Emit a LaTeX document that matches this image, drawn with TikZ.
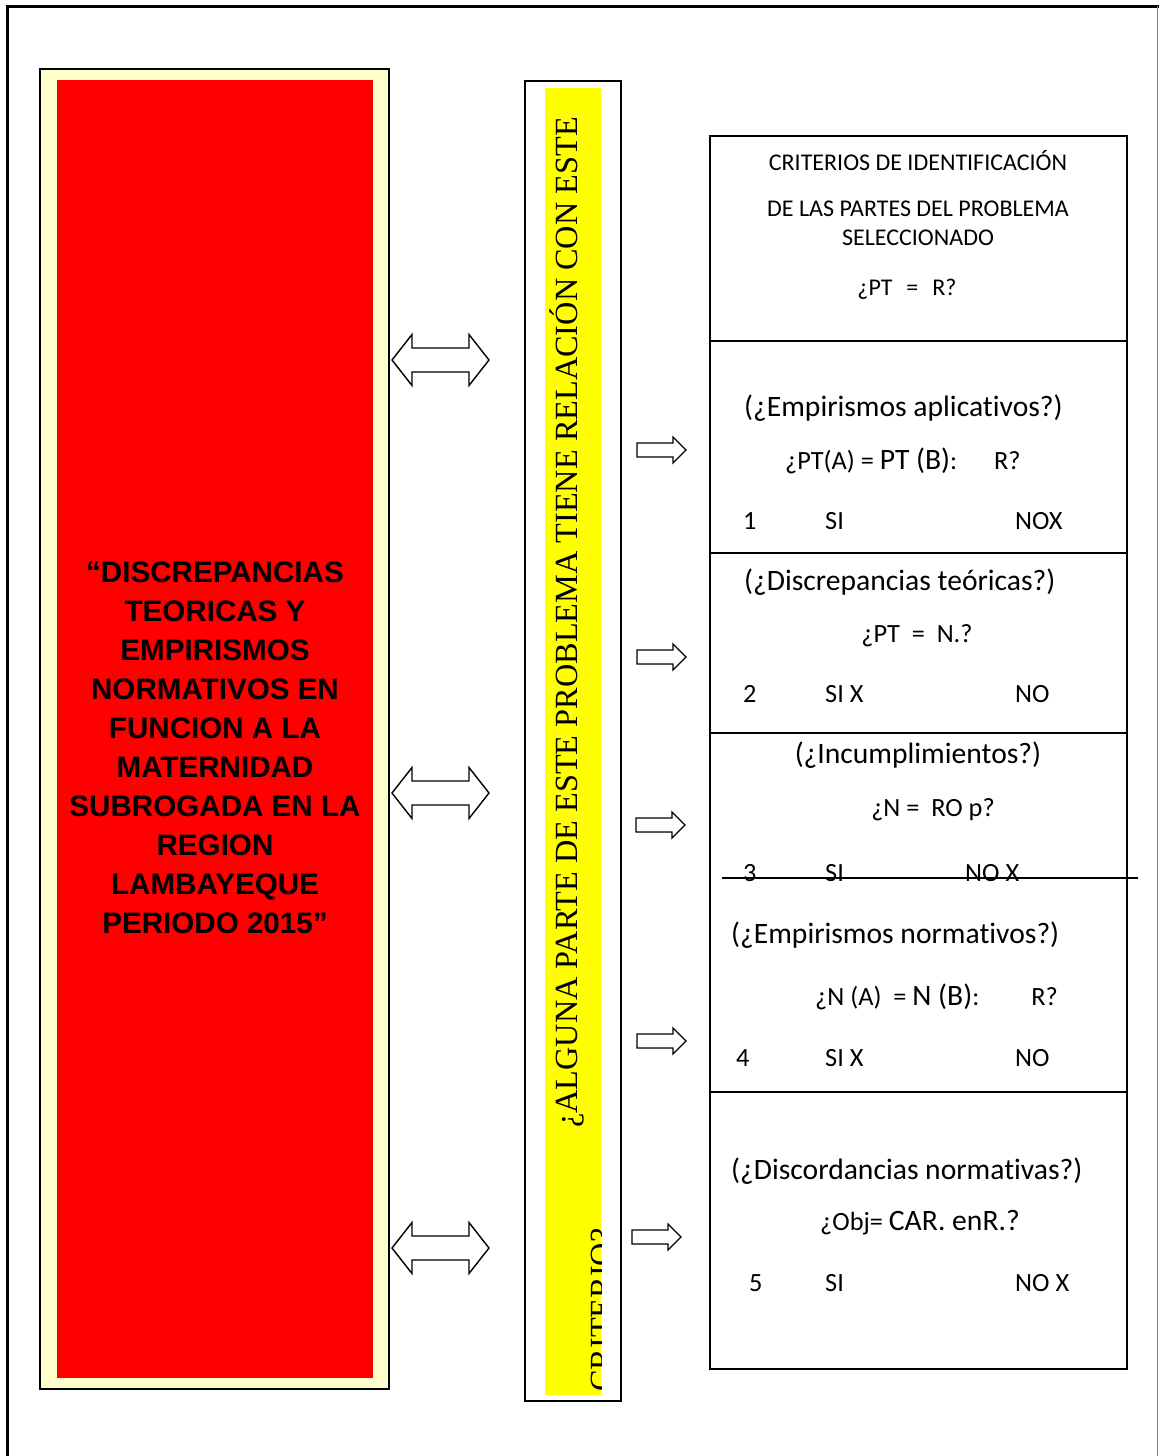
\documentclass[tikz,border=0pt]{standalone}
\usepackage{fontspec}
\newfontfamily\calfont[Ligatures=NoCommon]{Carlito}
\newfontfamily\arialfont{Liberation Sans}
\newfontfamily\timesfont{Liberation Serif}
\definecolor{lightyel}{HTML}{FFFFCC}
\definecolor{redfill}{HTML}{FF0000}
\definecolor{yelfill}{HTML}{FFFF00}
\tikzset{
  frame/.style={draw=black, line width=1.5pt},
  plainbox/.style={inner sep=0pt, outer sep=0pt},
  dblarr/.pic={\draw[line width=1.4pt, fill=white, line join=miter]
     (0,0) -- (20,-25.5) -- (20,-12) -- (77,-12) -- (77,-25.5) -- (97,0)
     -- (77,25.5) -- (77,12) -- (20,12) -- (20,25.5) -- cycle;},
  sarr/.pic={\draw[line width=1.2pt, fill=white, line join=miter]
     (0,-7) -- (36,-7) -- (36,-13) -- (49,0) -- (36,13) -- (36,7) -- (0,7) -- cycle;},
  big/.style={font=\calfont\fontsize{29.6}{34}\selectfont, inner sep=0pt},
  mid/.style={font=\calfont\fontsize{26.3}{30}\selectfont, inner sep=0pt},
  head/.style={font=\calfont\fontsize{24}{29}\selectfont, inner sep=0pt},
}
\begin{document}
\begin{tikzpicture}[x=1pt,y=-1pt]
\useasboundingbox (0,0) rectangle (1159,1456);
% outer page frame
\draw[line width=3pt] (1159,6) -- (7,6) -- (7,1456);
\draw[line width=1pt, gray] (1157,6) -- (1157,1456);

% left title box
\node[frame, plainbox, fill=lightyel, minimum width=349pt, minimum height=1320pt] (leftbox) at (214.5,729) {};
\node[plainbox, fill=redfill, minimum width=316pt, minimum height=1298pt] (redbox) at (215,729) {};
\node[align=center, inner sep=0pt, font=\arialfont\bfseries\fontsize{29.6}{39}\selectfont] (title) at (215,748)
  {“DISCREPANCIAS\\TEORICAS Y\\EMPIRISMOS\\NORMATIVOS EN\\FUNCION A LA\\MATERNIDAD\\SUBROGADA EN LA\\REGION\\LAMBAYEQUE\\PERIODO 2015”};

% middle question box
\node[frame, plainbox, fill=white, minimum width=96pt, minimum height=1320pt] (midbox) at (573,741) {};
\node[plainbox, fill=yelfill, minimum width=56pt, minimum height=1307pt] (yelbox) at (573,741.5) {};
\node[rotate=90, anchor=base west, inner sep=0pt, font=\timesfont\fontsize{32.3}{36}\selectfont] (q1) at (577,1128)
  {¿ALGUNA PARTE DE ESTE PROBLEMA TIENE RELACIÓN CON ESTE};
\begin{scope}
  \clip (yelbox.north west) rectangle (yelbox.south east);
  \node[rotate=90, anchor=base west, inner sep=0pt, font=\timesfont\fontsize{32.3}{36}\selectfont] (q2) at (612,1392) {CRITERIO?};
\end{scope}

% double arrows
\pic at (392,360) {dblarr};
\pic at (392,793) {dblarr};
\pic at (392,1248) {dblarr};

% single arrows
\pic at (637,450) {sarr};
\pic at (637,657) {sarr};
\pic at (636,825) {sarr};
\pic at (637,1041) {sarr};
\pic at (632,1237) {sarr};

% criteria table
\node[frame, plainbox, fill=white, minimum width=417pt, minimum height=1233pt] (table) at (918.5,752.5) {};
\draw[line width=1.5pt] (table.west |- 0,341) -- (table.east |- 0,341);
\draw[line width=1.5pt] (table.west |- 0,553) -- (table.east |- 0,553);
\draw[line width=1.5pt] (table.west |- 0,733) -- (table.east |- 0,733);
\draw[line width=1.5pt] (table.west |- 0,1092) -- (table.east |- 0,1092);

% row 0
\node[head, anchor=mid] (h1) at (918,168) {CRITERIOS DE IDENTIFICACIÓN};
\node[head, anchor=mid] (h2) at (918,214) {DE LAS PARTES DEL PROBLEMA};
\node[head, anchor=mid] (h3) at (918,243) {SELECCIONADO};
\node[head, anchor=mid] (h4) at (907,293) {¿PT\hspace{14pt}=\hspace{14pt}R?};

% row 1
\node[big, anchor=mid west] (r1a) at (744,414) {(¿Empirismos aplicativos?)};
\node[mid, anchor=mid west] (r1b) at (785,467) {¿PT(A) = {\fontsize{29.6}{30}\selectfont PT (B)}:\hspace{37pt}R?};
\node[mid, anchor=mid west] (r1n) at (743,527) {1};
\node[mid, anchor=mid west] (r1s) at (825,527) {SI};
\node[mid, anchor=mid west] (r1o) at (1015,527) {NOX};

% row 2
\node[big, anchor=mid west] (r2a) at (744,588) {(¿Discrepancias teóricas?)};
\node[mid, anchor=mid] (r2b) at (917,640) {¿PT\ \ =\ \ N.?};
\node[mid, anchor=mid west] (r2n) at (743,700) {2};
\node[mid, anchor=mid west] (r2s) at (825,700) {SI X};
\node[mid, anchor=mid west] (r2o) at (1015,700) {NO};

% row 3
\node[big, anchor=mid] (r3a) at (918,761) {(¿Incumplimientos?)};
\node[mid, anchor=mid] (r3b) at (933,814) {¿N =\ \ RO p?};
\node[mid, anchor=mid west] (r3n) at (743,879) {3};
\node[mid, anchor=mid west] (r3s) at (825,879) {SI};
\node[mid, anchor=mid west] (r3o) at (965,879) {NO X};
\draw[line width=1.5pt] (722,878) -- (1138,878);

% row 4
\node[big, anchor=mid west] (r4a) at (731,941) {(¿Empirismos normativos?)};
\node[mid, anchor=mid west] (r4b) at (815,1003) {¿N (A)\ \ = {\fontsize{29.6}{30}\selectfont N (B)}:\hspace{52pt}R?};
\node[mid, anchor=mid west] (r4n) at (736,1064) {4};
\node[mid, anchor=mid west] (r4s) at (825,1064) {SI X};
\node[mid, anchor=mid west] (r4o) at (1015,1064) {NO};

% row 5
\node[big, anchor=mid west] (r5a) at (731,1177) {(¿Discordancias normativas?)};
\node[mid, anchor=mid west] (r5b) at (820,1228) {¿Obj= {\fontsize{29.6}{30}\selectfont CAR. enR.?}};
\node[mid, anchor=mid west] (r5n) at (749,1289) {5};
\node[mid, anchor=mid west] (r5s) at (825,1289) {SI};
\node[mid, anchor=mid west] (r5o) at (1015,1289) {NO X};
\end{tikzpicture}
\end{document}
